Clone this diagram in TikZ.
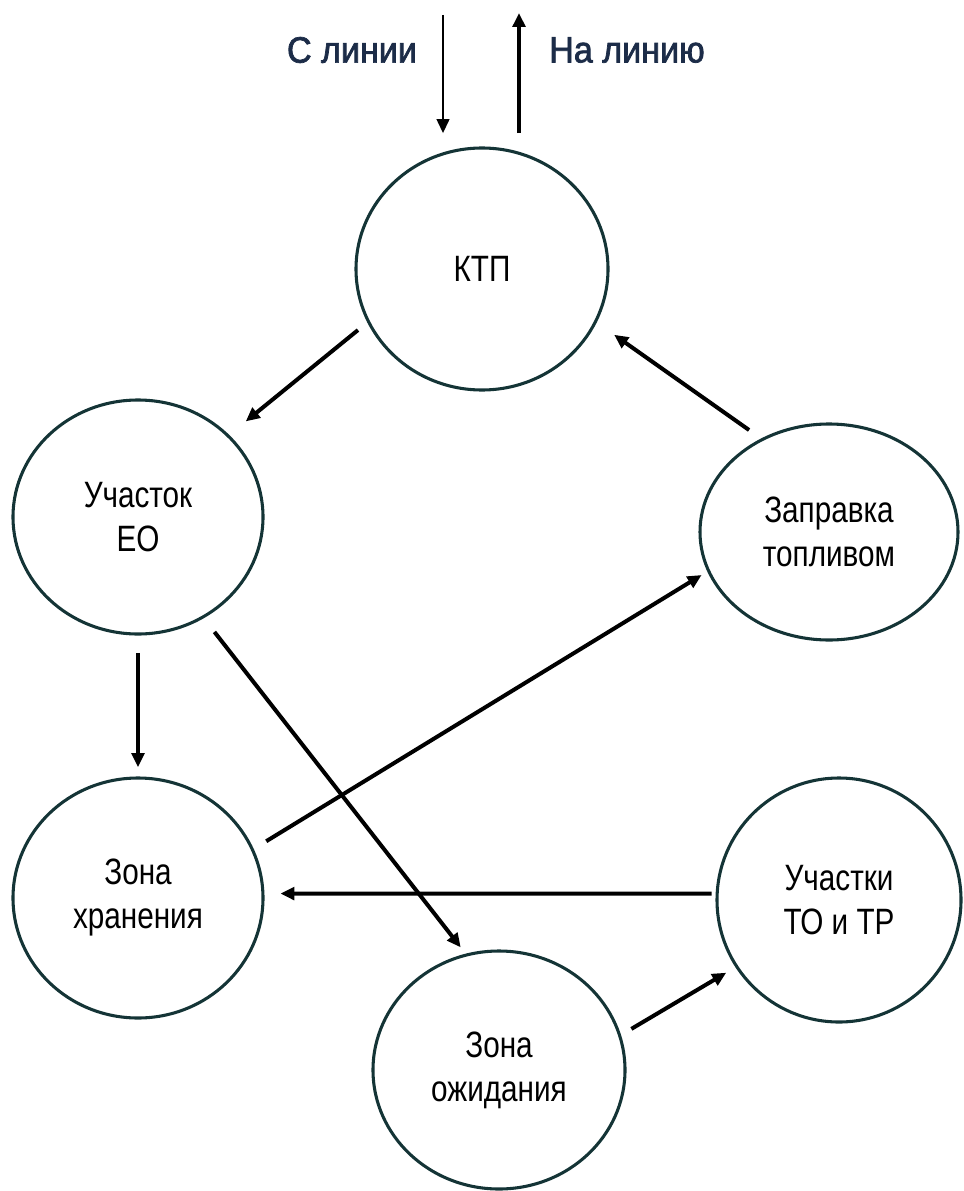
\documentclass[tikz,border=0pt]{standalone}
\usepackage{fontspec}
\setmainfont{Liberation Sans}[FakeStretch=0.81]
\newfontfamily\linefont{Liberation Sans}[FakeStretch=0.93,FakeBold=2]
\usetikzlibrary{arrows.meta,shapes.geometric}
\definecolor{rimcol}{RGB}{20,52,54}
\definecolor{navy}{RGB}{28,44,72}

\begin{document}
\begin{tikzpicture}[
  x=0.75pt,
  y=-0.75pt,
  every node/.style={font=\fontsize{27.5}{33}\selectfont},
  zone/.style={
    draw=rimcol,
    line width=2.3pt,
    ellipse,
    fill=white,
    align=center,
    inner sep=0pt
  },
  line label/.style={
    font=\linefont\fontsize{27.5}{33}\selectfont,
    text=navy
  },
  arrow/.style={-{Triangle[length=10.5pt,width=9.5pt]}, line width=3pt}
]
\useasboundingbox (0,0) rectangle (963,1191);

\node[zone, minimum width=189pt, minimum height=181.5pt] (ktp) at (482,269) {КТП};
\node[zone, minimum width=187.5pt, minimum height=175.5pt] (eo) at (138,517) {Участок\\ЕО};
\node[zone, minimum width=193.5pt, minimum height=162pt] (fuel) at (829,532) {Заправка\\топливом};
\node[zone, minimum width=187.5pt, minimum height=180pt] (storage) at (138,898) {Зона\\хранения};
\node[zone, minimum width=183pt, minimum height=183pt] (service) at (839,900) {Участки\\ТО и ТР};
\node[zone, minimum width=189pt, minimum height=178.5pt] (waiting) at (499,1070) {Зона\\ожидания};

\coordinate (intop) at (443,15);
\coordinate (outtop) at (519,13);
\node[line label] (fromline) at (352,50) {С линии};
\node[line label] (toline) at (627,50) {На линию};

\draw[arrow, line width=1.6pt, shorten >=10pt] (intop) -- (intop |- ktp.north);
\draw[arrow, shorten <=10pt] (outtop |- ktp.north) -- (outtop);

\draw[arrow, shorten <=9pt, shorten >=16pt] (ktp.205) -- (eo.42);
\draw[arrow, shorten <=11pt, shorten >=16pt] (fuel.126) -- (ktp.-25);
\draw[arrow, shorten <=13pt, shorten >=7pt] (eo.south) -- (storage.north);
\draw[arrow, shorten <=13pt, shorten >=6pt] (eo.-57) -- (waiting.106);
\draw[arrow, shorten <=11pt, shorten >=5pt] (storage.23) -- (fuel.198);
\draw[arrow, shorten <=3pt, shorten >=12pt] (service.177) -- (storage.2);
\draw[arrow, shorten <=9pt, shorten >=8pt] (waiting.16) -- (service.213);
\end{tikzpicture}
\end{document}
